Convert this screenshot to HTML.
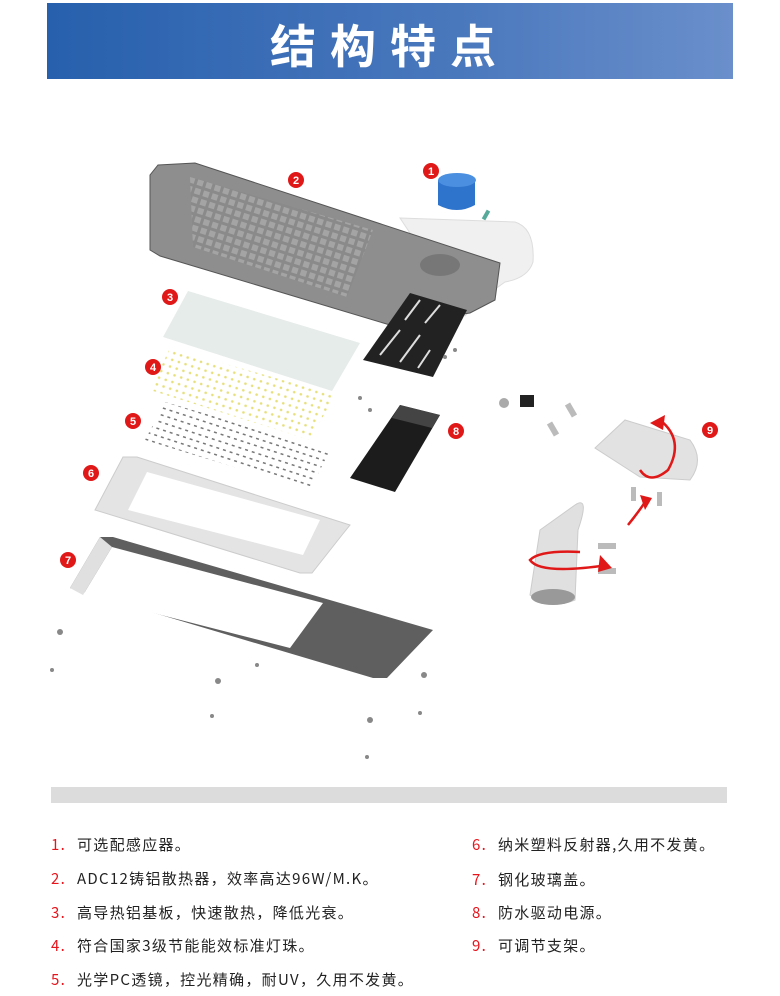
<!DOCTYPE html>
<html><head><meta charset="utf-8"><style>
body{margin:0;width:780px;height:996px;background:#fff;position:relative;overflow:hidden;font-family:"Liberation Sans","Noto Sans CJK SC",sans-serif}
.hdr{position:absolute;left:47px;top:3px;width:686px;height:76px;background:linear-gradient(90deg,#2760ad,#4a78bd 60%,#6a8fcb)}
.hdr span{position:absolute;left:0;right:0;top:8px;text-align:center;color:#fff;font-size:46px;font-weight:bold;letter-spacing:14px;font-family:"Noto Sans CJK SC",sans-serif}
.bar{position:absolute;left:51px;top:787px;width:676px;height:16px;background:#dcdcdc}
.li{position:absolute;font-size:15px;color:#222;font-family:"Noto Sans CJK SC","WenQuanYi Zen Hei",sans-serif;letter-spacing:1.3px;white-space:nowrap;line-height:20px}
.li b{color:#e8141c;font-weight:normal;display:inline-block;width:26px}
svg{position:absolute;left:0;top:0}
</style></head><body>
<div class="hdr"><span>结构特点</span></div>
<svg width="780" height="780" viewBox="0 0 780 780">
<defs>
<pattern id="led" width="7" height="7" patternUnits="userSpaceOnUse" patternTransform="rotate(18)"><circle cx="2" cy="2" r="1.3" fill="#e6df7a"/></pattern>
<pattern id="lens" width="7" height="7" patternUnits="userSpaceOnUse" patternTransform="rotate(18)"><rect x="1" y="1" width="3" height="1.5" fill="#777"/></pattern>
<pattern id="fin" width="9" height="9" patternUnits="userSpaceOnUse" patternTransform="rotate(18)"><rect width="9" height="9" fill="#8a8a8a"/><rect x="1" y="1" width="6" height="6" fill="#a4a4a4"/></pattern>
</defs>
<!-- housing -->
<path d="M400 218 L515 222 Q535 228 533 262 Q528 278 505 282 L480 300 L465 316 Z" fill="#f0f0f0" stroke="#ddd"/>
<path d="M158 165 L195 163 L500 263 L495 300 L470 313 L390 325 L160 256 L150 250 L150 175 Z" fill="#8e8e8e" stroke="#555"/>
<path d="M190 177 L373 230 L347 297 L193 247 Z" fill="url(#fin)"/>
<ellipse cx="440" cy="265" rx="20" ry="11" fill="#777"/>
<!-- sensor -->
<path d="M438 180 L475 180 L475 205 Q457 215 438 205 Z" fill="#2f74cc"/>
<ellipse cx="457" cy="180" rx="19" ry="7" fill="#4b8fe0"/>
<rect x="484" y="210" width="4" height="10" fill="#5a9" transform="rotate(30 486 215)"/>
<!-- bracket -->
<path d="M410 293 L467 310 L433 377 L363 360 Z" fill="#222"/>
<g stroke="#ddd" stroke-width="2"><line x1="380" y1="355" x2="400" y2="330"/><line x1="400" y1="362" x2="420" y2="335"/><line x1="418" y1="368" x2="430" y2="350"/><line x1="405" y1="320" x2="420" y2="300"/><line x1="425" y1="323" x2="440" y2="305"/></g>
<!-- board 3 -->
<path d="M188 291 L360 343 L332 391 L163 337 Z" fill="#e6ece9"/>
<!-- leds 4 -->
<path d="M170 348 L335 395 L310 440 L150 390 Z" fill="url(#led)"/>
<!-- lens 5 -->
<path d="M165 402 L330 450 L310 490 L145 440 Z" fill="url(#lens)"/>
<!-- driver 8 -->
<path d="M400 405 L440 415 L395 492 L350 478 Z" fill="#1c1c1c"/>
<path d="M400 405 L440 415 L432 428 L392 418 Z" fill="#444"/>
<!-- frame 6 -->
<path d="M123 457 L137 457 L350 525 L342 535 L312 573 L300 573 L95 510 Z" fill="#e4e4e4" stroke="#ccc"/>
<path d="M147 472 L320 520 L303 555 L128 510 Z" fill="#fff"/>
<!-- glass 7 -->
<path d="M100 537 L113 537 L433 630 L387 678 L373 678 L70 588 Z" fill="#5f5f5f"/>
<path d="M112 547 L323 603 L290 648 L83 595 Z" fill="#fff"/>
<path d="M100 537 L112 547 L83 595 L70 588 Z" fill="#e0e0e0"/>
<!-- screws -->
<g fill="#888"><circle cx="360" cy="398" r="2"/><circle cx="370" cy="410" r="2"/><circle cx="455" cy="350" r="2"/><circle cx="445" cy="357" r="2"/><circle cx="52" cy="670" r="2"/><circle cx="60" cy="632" r="3"/><circle cx="257" cy="665" r="2"/><circle cx="212" cy="716" r="2"/><circle cx="218" cy="681" r="3"/><circle cx="370" cy="720" r="3"/><circle cx="420" cy="713" r="2"/><circle cx="424" cy="675" r="3"/><circle cx="367" cy="757" r="2"/></g>
<!-- bracket 9 -->
<circle cx="504" cy="403" r="5" fill="#aaa"/><rect x="520" y="395" width="14" height="12" fill="#222"/>
<rect x="568" y="403" width="6" height="14" fill="#bbb" transform="rotate(-30 571 410)"/>
<rect x="550" y="422" width="6" height="14" fill="#bbb" transform="rotate(-30 553 429)"/>
<path d="M595 448 L625 420 L690 440 Q705 460 690 480 L640 477 Z" fill="#e2e2e2" stroke="#ccc"/>
<path d="M575 505 Q590 495 578 530 L575 600 Q550 610 530 595 L540 530 Z" fill="#e0e0e0" stroke="#ccc"/>
<ellipse cx="553" cy="597" rx="22" ry="8" fill="#999"/>
<g fill="#bbb"><rect x="631" y="487" width="5" height="14"/><rect x="657" y="492" width="5" height="14"/><rect x="598" y="543" width="18" height="6"/><rect x="598" y="568" width="18" height="6"/></g>
<g fill="none" stroke="#e01818" stroke-width="2.5"><path d="M660 420 Q685 440 668 470 Q650 485 640 470"/><path d="M608 565 Q540 575 530 560 Q540 550 580 552"/><path d="M628 525 Q640 510 645 502"/></g>
<g fill="#e01818"><path d="M650 423 L665 415 L663 430 Z"/><path d="M600 555 L612 568 L598 572 Z"/><path d="M640 495 L652 498 L645 510 Z"/></g>
<!-- labels -->
<g fill="#e01818"><circle cx="431" cy="171" r="8"/><circle cx="296" cy="180" r="8"/><circle cx="170" cy="297" r="8"/><circle cx="153" cy="367" r="8"/><circle cx="133" cy="421" r="8"/><circle cx="91" cy="473" r="8"/><circle cx="68" cy="560" r="8"/><circle cx="456" cy="431" r="8"/><circle cx="710" cy="430" r="8"/></g>
<g fill="#fff" font-size="11" font-weight="bold" text-anchor="middle" font-family="Liberation Sans,sans-serif"><text x="431" y="175">1</text><text x="296" y="184">2</text><text x="170" y="301">3</text><text x="153" y="371">4</text><text x="133" y="425">5</text><text x="91" y="477">6</text><text x="68" y="564">7</text><text x="456" y="435">8</text><text x="710" y="434">9</text></g>
</svg>
<div class="bar"></div>
<div class="li" style="left:51px;top:835px"><b>1.</b>可选配感应器。</div>
<div class="li" style="left:51px;top:869px"><b>2.</b>ADC12铸铝散热器，效率高达96W/M.K。</div>
<div class="li" style="left:51px;top:903px"><b>3.</b>高导热铝基板，快速散热，降低光衰。</div>
<div class="li" style="left:51px;top:936px"><b>4.</b>符合国家3级节能能效标准灯珠。</div>
<div class="li" style="left:51px;top:970px"><b>5.</b>光学PC透镜，控光精确，耐UV，久用不发黄。</div>
<div class="li" style="left:472px;top:835px"><b>6.</b>纳米塑料反射器,久用不发黄。</div>
<div class="li" style="left:472px;top:870px"><b>7.</b>钢化玻璃盖。</div>
<div class="li" style="left:472px;top:903px"><b>8.</b>防水驱动电源。</div>
<div class="li" style="left:472px;top:936px"><b>9.</b>可调节支架。</div>
</body></html>
